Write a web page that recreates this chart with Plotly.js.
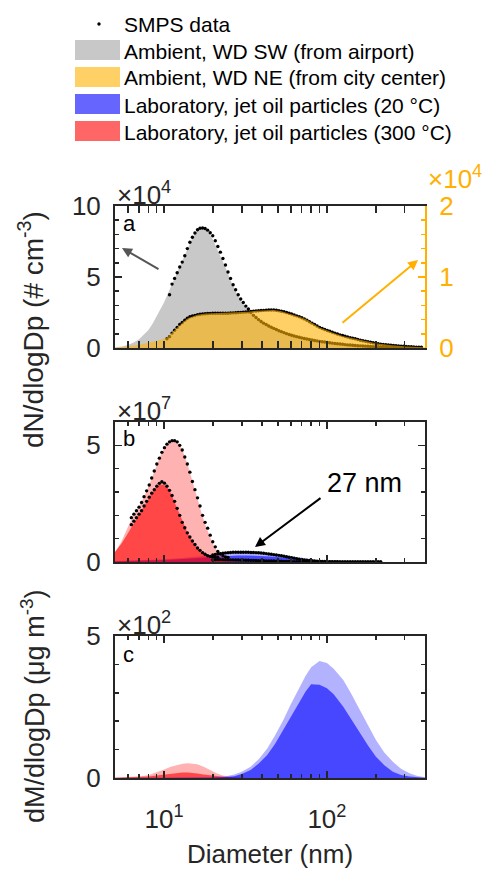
<!DOCTYPE html>
<html><head><meta charset="utf-8">
<script src="https://cdn.plot.ly/plotly-3.0.1.min.js"></script>
<style>html,body{margin:0;padding:0;background:#fff}</style>
</head><body><div id="chart" style="width:490px;height:869px"></div>
<script>
// ---------------- DATA ----------------
// SMPS channel diameters (nm)
const smpsD = [6.30,6.53,6.77,7.02,7.28,7.54,7.82,8.11,8.40,8.71,9.03,9.36,9.70,10.06,10.42,10.81,11.20,11.61,12.04,12.48,12.93,13.41,13.90,14.41,14.93,15.48,16.05,16.63,17.24,17.87,18.53,19.21,19.91,20.64,21.39,22.18,22.99,23.83,24.70,25.61,26.55,27.52,28.53,29.57,30.65,31.78,32.94,34.15,35.40,36.70,38.04,39.43,40.87,42.37,43.92,45.53,47.20,48.93,50.72,52.58,54.50,56.50,58.57,60.71,62.94,65.24,67.63,70.11,72.68,75.34,78.10,80.96,83.92,86.99,90.18,93.48,96.91,100.5,104.1,107.9,111.9,116.0,120.3,124.7,129.2,133.9,138.9,143.9,149.2,154.7,160.4,166.2,172.3,178.6,185.2,192.0,199.0,206.3,213.8,221.7,229.8,238.2,246.9,256.0,265.3,275.0,285.1,295.6,306.4,317.6,329.3,341.3,353.8,366.8,380.2];
// Panel a: SMPS data (x10^4 cm^-3), channels 10.81 ... 380.2 nm
const ambSWdots = [3.75,4.5,4.9,5.3,5.7,6.05,6.5,7.0,7.45,7.8,8.1,8.33,8.43,8.45,8.42,8.3,8.12,7.9,7.55,7.15,6.75,6.3,5.85,5.35,4.9,4.45,4.1,3.75,3.45,3.2,2.95,2.75,2.5,2.3,2.15,2.0,1.87,1.75,1.65,1.55,1.46,1.38,1.3,1.22,1.15,1.08,1.01,0.95,0.9,0.85,0.8,0.76,0.71,0.67,0.63,0.6,0.56,0.53,0.5,0.47,0.44,0.42,0.39,0.37,0.34,0.32,0.3,0.28,0.26,0.24,0.22,0.21,0.19,0.18,0.16,0.15,0.14,0.13,0.12,0.11,0.1,0.09,0.085,0.08,0.07,0.06,0.055,0.05,0.045,0.04,0.035,0.03,0.03,0.03,0.025,0.02,0.02,0.02,0.015,0.01];
// channels 10.42 ... 380.2 nm
const ambNEdots = [0.13,0.16,0.21,0.25,0.29,0.33,0.36,0.39,0.42,0.44,0.45,0.46,0.47,0.475,0.48,0.483,0.485,0.488,0.49,0.49,0.49,0.49,0.49,0.49,0.49,0.492,0.495,0.497,0.5,0.502,0.505,0.508,0.51,0.515,0.52,0.522,0.525,0.528,0.53,0.533,0.535,0.536,0.535,0.532,0.525,0.518,0.51,0.5,0.49,0.478,0.465,0.453,0.44,0.425,0.41,0.39,0.37,0.35,0.33,0.31,0.29,0.275,0.26,0.247,0.235,0.222,0.21,0.197,0.185,0.175,0.165,0.155,0.145,0.137,0.13,0.12,0.11,0.102,0.095,0.087,0.08,0.073,0.066,0.06,0.055,0.051,0.047,0.043,0.04,0.036,0.033,0.03,0.027,0.024,0.021,0.019,0.017,0.015,0.013,0.011,0.01];
// Panel a: area curves
const ambSWfitD = [5,5.5,6,6.5,7,7.5,8,8.5,9,9.5,10,11,12,13,14,15,16,17,18,19,20,22,24,26,28,30,33,36,40,45,50,60,70,80,100,120,150,200,250,300,400];
const ambSWfit  = [0.03,0.1,0.22,0.38,0.6,0.9,1.25,1.7,2.2,2.7,3.2,4.3,5.3,6.1,7.0,7.8,8.3,8.45,8.35,8.05,7.6,6.6,5.6,4.6,3.8,3.2,2.65,2.25,1.85,1.5,1.3,1.0,0.75,0.6,0.42,0.3,0.18,0.09,0.05,0.03,0.01];
const ambNEfitD = [5,6,7,8,9,10,10.5,11,12,13,14,15,16,18,20,23,27,30,33,37,42,47,52,58,63,68,75,83,90,100,110,125,145,170,200,250,310,400];
const ambNEfit  = [0.005,0.02,0.045,0.07,0.1,0.13,0.15,0.2,0.29,0.36,0.42,0.45,0.47,0.485,0.49,0.49,0.495,0.5,0.51,0.525,0.533,0.535,0.52,0.49,0.465,0.44,0.4,0.34,0.29,0.25,0.21,0.17,0.137,0.1,0.066,0.04,0.02,0.01];
// Panel b: SMPS data (x10^7 cm^-3)
// channels 6.30 ... 24.70 nm
const lab300aDots = [1.9,2.05,2.2,2.35,2.55,2.8,3.05,3.3,3.6,3.9,4.2,4.45,4.7,4.9,5.05,5.15,5.2,5.2,5.15,5.0,4.8,4.5,4.2,3.85,3.45,3.1,2.75,2.4,2.0,1.7,1.45,1.15,0.87,0.65,0.45,0.34,0.27,0.22,0.2];
// channels 6.30 ... 21.39 nm
const lab300bDots = [1.6,1.75,1.9,2.05,2.2,2.4,2.6,2.78,2.95,3.1,3.25,3.37,3.44,3.38,3.25,3.07,2.85,2.6,2.3,2.0,1.7,1.47,1.25,1.07,0.9,0.75,0.6,0.5,0.4,0.33,0.27,0.24,0.22,0.21,0.2];
// channels 19.91 ... 213.8 nm
const lab20aDots = [0.3,0.32,0.34,0.36,0.375,0.39,0.4,0.41,0.415,0.42,0.42,0.42,0.42,0.42,0.415,0.41,0.405,0.4,0.395,0.385,0.375,0.36,0.345,0.33,0.315,0.3,0.285,0.265,0.245,0.225,0.205,0.185,0.165,0.145,0.125,0.105,0.09,0.075,0.063,0.053,0.045,0.038,0.032,0.027,0.022,0.018,0.015,0.012,0.01,0.008,0.006,0.005,0.004,0.003,0.002,0.002,0.001,0.001,0.001,0.001,0,0,0,0,0,0,0];
const lab20bDots = [0.1,0.1,0.1,0.1,0.1,0.095,0.095,0.09,0.09,0.085,0.085,0.08,0.08,0.075,0.075,0.07,0.07,0.065,0.06,0.057,0.054,0.05,0.047,0.044,0.04,0.037,0.034,0.03,0.027,0.024,0.021,0.018,0.015,0.013,0.011,0.009,0.008,0.007,0.006,0.005,0.004,0.003,0.003,0.002,0.002,0.001,0.001,0.001,0.001,0,0,0,0,0,0,0,0,0,0,0,0,0,0,0,0,0,0];
// Panel b: area curves
const lab300aFitD = [5,5.5,6,6.5,7,7.5,8,8.5,9,9.5,10,10.5,11,11.5,12,13,14,15,16,17,18,19,20,21,22,24,26,30,40];
const lab300aFit  = [0.4,0.9,1.5,2.0,2.35,2.75,3.2,3.7,4.15,4.55,4.85,5.08,5.2,5.22,5.17,4.78,4.15,3.4,2.75,2.1,1.55,1.1,0.75,0.5,0.33,0.15,0.07,0.02,0];
const lab300bFitD = [5,5.5,6,6.5,7,7.5,8,8.5,9,9.5,10,10.5,11,12,13,14,15,16,17,18,19,20,22,25,30];
const lab300bFit  = [0.44,0.8,1.23,1.65,2.0,2.35,2.7,3.0,3.22,3.33,3.3,3.2,2.95,2.3,1.7,1.22,0.87,0.6,0.4,0.27,0.18,0.12,0.06,0.02,0];
const lab20FitD = [5,7,10,13,16,20,24,28,32,36,40,45,50,55,60,70,80,90,100,120,150,200,300,400];
const lab20aFit = [0.04,0.07,0.12,0.17,0.22,0.3,0.38,0.41,0.42,0.41,0.39,0.36,0.32,0.28,0.24,0.165,0.11,0.07,0.045,0.02,0.006,0.001,0,0];
const lab20bFit = [0.03,0.05,0.09,0.13,0.17,0.21,0.26,0.28,0.28,0.275,0.26,0.24,0.21,0.18,0.15,0.1,0.065,0.04,0.025,0.009,0.002,0,0,0];
// Panel c: mass distributions (x10^2 ug m^-3)
const massBlueD = [5,10,15,20,24,27,30,34,38,43,48,54,60,68,74,80,90,100,110,126,140,159,180,200,225,254,285,321,360,400];
const massBlueA = [0,0,0.005,0.02,0.06,0.12,0.22,0.4,0.65,1.04,1.5,2.04,2.6,3.2,3.6,3.9,4.12,4.05,3.85,3.45,3.0,2.4,1.85,1.34,0.9,0.57,0.33,0.17,0.07,0.03];
const massBlueB = [0,0,0.003,0.01,0.03,0.06,0.14,0.28,0.5,0.81,1.2,1.69,2.15,2.69,3.05,3.3,3.28,3.16,2.95,2.51,2.1,1.57,1.12,0.75,0.45,0.22,0.11,0.05,0.02,0.01];
const massRedD = [5,6,7,8,9,10,11,12,13,14,15,16,17.5,19,21,23,25.5,28,32];
const massRedA = [0.02,0.03,0.05,0.1,0.2,0.3,0.4,0.46,0.5,0.52,0.51,0.48,0.4,0.3,0.17,0.09,0.05,0.02,0];
const massRedB = [0.01,0.02,0.03,0.05,0.09,0.12,0.15,0.17,0.19,0.19,0.18,0.16,0.12,0.09,0.06,0.04,0.02,0.01,0];
// Legend / ticks
const legendLabels = ['SMPS data','Ambient, WD SW (from airport)','Ambient, WD NE (from city center)','Laboratory, jet oil particles (20 °C)','Laboratory, jet oil particles (300 °C)'];
const xTickVals = [10,100];
const xTickText = ['10<sup>1</sup>','10<sup>2</sup>'];

// ---------------- STYLE ----------------
const W = 490, H = 869;
const FONT = 'Liberation Sans, Arial, Helvetica, sans-serif';
const AX = '#262626';
const ORANGE = '#ffb000';
const GRAY_FILL = '#c8c8c8';
const YEL_FILL = 'rgba(255,176,0,0.6)';
const BLUE_L = 'rgba(0,0,255,0.3)', BLUE_D = 'rgba(0,0,255,0.6)';
const RED_L = 'rgba(255,0,0,0.3)', RED_D = 'rgba(255,0,0,0.6)';
const px = v => v / W, py = v => 1 - v / H;
const xDom = [px(115), px(425)];
const dA = [py(348), py(206)], dB = [py(562), py(422)], dC = [py(778), py(636)];

function area(x, y, xa, ya, col) {
  return {x, y, xaxis: xa, yaxis: ya, type: 'scatter', mode: 'lines', line: {width: 0, color: col},
          fill: 'tozeroy', fillcolor: col, hoverinfo: 'skip', showlegend: false};
}
function dots(x, y, xa, ya) {
  return {x, y, xaxis: xa, yaxis: ya, type: 'scatter', mode: 'markers',
          marker: {size: 3.4, color: '#000'}, hoverinfo: 'skip', showlegend: false};
}
const traces = [
  area(ambSWfitD, ambSWfit, 'x', 'y', GRAY_FILL),
  dots(smpsD.slice(15), ambSWdots, 'x', 'y'),
  dots(smpsD.slice(14), ambNEdots, 'x', 'y2'),
  area(ambNEfitD, ambNEfit, 'x', 'y2', YEL_FILL),
  area(lab20FitD, lab20aFit, 'x2', 'y3', BLUE_L),
  area(lab20FitD, lab20bFit, 'x2', 'y3', BLUE_D),
  area(lab300aFitD, lab300aFit, 'x2', 'y3', RED_L),
  area(lab300bFitD, lab300bFit, 'x2', 'y3', RED_D),
  dots(smpsD.slice(32, 32 + lab20aDots.length), lab20aDots, 'x2', 'y3'),
  dots(smpsD.slice(32, 32 + lab20bDots.length), lab20bDots, 'x2', 'y3'),
  dots(smpsD.slice(0, lab300aDots.length), lab300aDots, 'x2', 'y3'),
  dots(smpsD.slice(0, lab300bDots.length), lab300bDots, 'x2', 'y3'),
  area(massRedD, massRedA, 'x3', 'y4', RED_L),
  area(massRedD, massRedB, 'x3', 'y4', RED_D),
  area(massBlueD, massBlueA, 'x3', 'y4', BLUE_L),
  area(massBlueD, massBlueB, 'x3', 'y4', BLUE_D)
];

const TF = 26;
const tickFont = {family: FONT, size: TF, color: AX};
function xAxis(anchor, showLabels) {
  return {domain: xDom, anchor, type: 'log', range: [Math.log10(5), Math.log10(400)],
    tickmode: 'array', tickvals: xTickVals, ticktext: xTickText, showticklabels: showLabels,
    ticks: 'inside', ticklen: 7, tickwidth: 1.5, tickcolor: AX, showline: true, linecolor: AX, linewidth: 2,
    mirror: 'allticks', showgrid: false, zeroline: false, tickfont: tickFont, ticklabelstandoff: 17,
    minor: {tickmode: 'array', tickvals: [6,7,8,9,20,30,40,50,60,70,80,90,200,300], ticks: 'inside', ticklen: 4, tickwidth: 1.5, tickcolor: AX, showgrid: false}};
}
function yAxis(dom, anchor, range, vals, minorStep, mirror, color) {
  return {domain: dom, anchor, range, tickmode: 'array', tickvals: vals, ticks: 'inside', ticklen: 7, tickwidth: 1.5,
    tickcolor: color, showline: true, linecolor: color, linewidth: 2, mirror, showgrid: false, zeroline: false,
    tickfont: {family: FONT, size: TF, color}, ticklabelstandoff: 7,
    minor: {dtick: minorStep, ticks: 'inside', ticklen: 4, tickwidth: 1.5, tickcolor: color, showgrid: false}};
}

const layout = {
  width: W, height: H, margin: {l: 0, r: 0, t: 0, b: 0},
  paper_bgcolor: '#fff', plot_bgcolor: 'rgba(0,0,0,0)', showlegend: false,
  font: {family: FONT, color: AX},
  xaxis: xAxis('y', false),
  xaxis2: xAxis('y3', false),
  xaxis3: Object.assign(xAxis('y4', true), {title: {text: 'Diameter (nm)', font: {family: FONT, size: 26, color: AX}, standoff: 14}}),
  yaxis: yAxis(dA, 'x', [0, 10], [0, 5, 10], 1, false, AX),
  yaxis2: Object.assign(yAxis(dA, 'x', [0, 2], [0, 1, 2], 0.2, false, ORANGE), {overlaying: 'y', side: 'right'}),
  yaxis3: yAxis(dB, 'x2', [0, 6], [0, 5], 1, 'allticks', AX),
  yaxis4: yAxis(dC, 'x3', [0, 5], [0, 5], 1, 'allticks', AX),
  shapes: [], annotations: []
};

// Legend (drawn as shapes + text)
const rowY = [24, 50, 77, 104, 131];
const swatchCols = [GRAY_FILL, YEL_FILL, BLUE_D, RED_D];
layout.shapes.push({type: 'circle', xref: 'paper', yref: 'paper', x0: px(97.3), x1: px(100.7), y0: py(rowY[0] + 1.7), y1: py(rowY[0] - 1.7), fillcolor: '#000', line: {width: 0}});
swatchCols.forEach((c, i) => layout.shapes.push({type: 'rect', xref: 'paper', yref: 'paper', x0: px(75), x1: px(120), y0: py(rowY[i + 1] + 10), y1: py(rowY[i + 1] - 10), fillcolor: c, line: {width: 0}}));
legendLabels.forEach((t, i) => layout.annotations.push({xref: 'paper', yref: 'paper', x: px(122), y: py(rowY[i] + 1), xanchor: 'left', yanchor: 'middle', text: t, showarrow: false, font: {family: FONT, size: 21, color: '#000'}}));

// exponent labels
const ann = layout.annotations;
const expFont = c => ({family: FONT, size: TF, color: c});
ann.push({xref: 'paper', yref: 'paper', x: px(115), y: dA[1], xanchor: 'left', yanchor: 'bottom', yshift: -6, text: '×10<sup>4</sup>', showarrow: false, font: expFont(AX)});
ann.push({xref: 'paper', yref: 'paper', x: px(426), y: dA[1], xanchor: 'left', yanchor: 'bottom', yshift: 10, text: '×10<sup>4</sup>', showarrow: false, font: expFont(ORANGE)});
ann.push({xref: 'paper', yref: 'paper', x: px(115), y: dB[1], xanchor: 'left', yanchor: 'bottom', yshift: -6, text: '×10<sup>7</sup>', showarrow: false, font: expFont(AX)});
ann.push({xref: 'paper', yref: 'paper', x: px(115), y: dC[1], xanchor: 'left', yanchor: 'bottom', yshift: -6, text: '×10<sup>2</sup>', showarrow: false, font: expFont(AX)});
// panel letters
[['a', 223], ['b', 438], ['c', 654]].forEach(([t, y]) => ann.push({xref: 'paper', yref: 'paper', x: px(121), y: py(y), xanchor: 'left', yanchor: 'middle', text: t, showarrow: false, font: {family: FONT, size: 22, color: '#000'}}));
// y titles
ann.push({xref: 'paper', yref: 'paper', x: px(31), y: py(330), xanchor: 'center', yanchor: 'middle', textangle: -90, text: 'dN/dlogDp (# cm<sup>-3</sup>)', showarrow: false, font: {family: FONT, size: 28, color: AX}});
ann.push({xref: 'paper', yref: 'paper', x: px(33), y: py(707), xanchor: 'center', yanchor: 'middle', textangle: -90, text: 'dM/dlogDp (μg m<sup>-3</sup>)', showarrow: false, font: {family: FONT, size: 27, color: AX}});
// arrows
ann.push({xref: 'paper', yref: 'paper', x: px(122), y: py(248), ax: 38, ay: 22, text: '', showarrow: true, arrowhead: 2, arrowsize: 1, arrowwidth: 2, arrowcolor: '#555'});
ann.push({xref: 'paper', yref: 'paper', x: px(418), y: py(260), ax: -77, ay: 64, text: '', showarrow: true, arrowhead: 2, arrowsize: 1, arrowwidth: 2, arrowcolor: ORANGE});
ann.push({xref: 'paper', yref: 'paper', x: px(255), y: py(547), ax: 67, ay: -50, text: '', showarrow: true, arrowhead: 2, arrowsize: 1, arrowwidth: 2, arrowcolor: '#000'});
ann.push({xref: 'paper', yref: 'paper', x: px(364), y: py(483), xanchor: 'center', yanchor: 'middle', text: '27 nm', showarrow: false, font: {family: FONT, size: 27, color: '#000'}});

Plotly.newPlot('chart', traces, layout, {staticPlot: true, displayModeBar: false});
</script></body></html>
